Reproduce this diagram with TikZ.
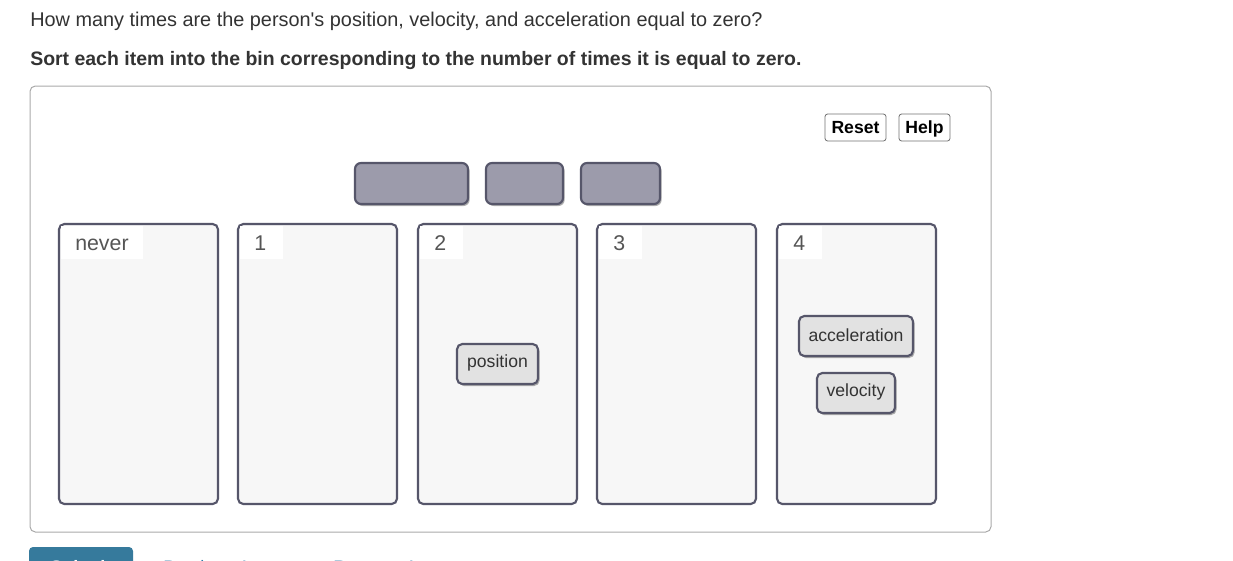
\documentclass[tikz,border=0pt]{standalone}
\usepackage{fontspec}
\setmainfont{Liberation Sans}
\newfontfamily\plainapos{Liberation Sans}
\usetikzlibrary{shadows}
\definecolor{txt}{HTML}{333333}
\definecolor{lbl}{HTML}{555555}
\definecolor{panelb}{HTML}{AAAAAA}
\definecolor{binfill}{HTML}{F7F7F7}
\definecolor{binb}{HTML}{56566A}
\definecolor{slot}{HTML}{9C9BAB}
\definecolor{chipfill}{HTML}{E2E2E2}
\definecolor{subm}{HTML}{367A9C}
\definecolor{link}{HTML}{2C7AA8}
\tikzset{
  bin/.style={draw=binb, line width=1.6pt, fill=binfill, rounded corners=4pt},
  slotbox/.style={draw=binb, line width=1.6pt, fill=slot, rounded corners=4.5pt,
    drop shadow={shadow xshift=1.2pt, shadow yshift=-1.5pt, opacity=0.45, fill=black!70}},
  chip/.style={draw=binb, line width=1.6pt, fill=chipfill, rounded corners=4pt,
    drop shadow={shadow xshift=1.2pt, shadow yshift=-1.5pt, opacity=0.45, fill=black!70}},
  chiptext/.style={text=txt, font=\fontsize{13.2pt}{15pt}\selectfont, inner sep=0pt},
  binlabel/.style={text=lbl, font=\fontsize{16pt}{18pt}\selectfont, inner sep=0pt, anchor=base west},
  btn/.style={draw=black!55, line width=0.6pt, fill=white, rounded corners=2pt},
  btntext/.style={font=\bfseries\fontsize{13.2pt}{15pt}\selectfont, text=black, inner sep=0pt, anchor=base},
}
\begin{document}
\begin{tikzpicture}[x=0.75pt,y=-0.75pt]
\useasboundingbox (0,0) rectangle (1233,561);
\clip (0,0) rectangle (1233,561);
\fill[white] (0,0) rectangle (1233,561);

% question
\node[anchor=base west, inner sep=0pt, text=txt, font=\fontsize{14.9pt}{17pt}\selectfont] (q) at (30,26)
  {How many times are the person{\plainapos'}s position, velocity, and acceleration equal to zero?};
\node[anchor=base west, inner sep=0pt, text=txt, font=\bfseries\fontsize{14.6pt}{17pt}\selectfont] (instr) at (30,65.5)
  {Sort each item into the bin corresponding to the number of times it is equal to zero.};

% panel
\draw[panelb, line width=0.75pt, rounded corners=4pt] (30,86) rectangle (991,532);

% Reset / Help
\draw[btn] (825,114) rectangle (886,141);
\node[btntext] (reset) at (855.5,133.5) {Reset};
\draw[btn] (899,114) rectangle (950,141);
\node[btntext] (help) at (924.5,133.5) {Help};

% empty slots
\path[slotbox] (355,163) rectangle (468,204);
\path[slotbox] (486,163) rectangle (563,204);
\path[slotbox] (581,163) rectangle (660,204);

% bins
\foreach \x/\w/\t/\n in {59/84/never/b0, 238/45/1/b1, 418/45/2/b2, 597/45/3/b3, 777/45/4/b4}{
  \path[bin] (\x,224) rectangle (\x+159,504);
  \fill[white] (\x+1.6,225.6) rectangle (\x+\w,259);
  \node[binlabel] (\n) at (\x+16,250.5) {\t};
}

% chips
\path[chip] (457,344) rectangle (538,384);
\node[chiptext] (pos) at (497.5,363) {position};
\path[chip] (799,316) rectangle (913,356);
\node[chiptext] (acc) at (856,335) {acceleration};
\path[chip] (817,373) rectangle (895,413);
\node[chiptext] (vel) at (856,392) {velocity};

% bottom (cut off, as in the reference)
\fill[subm, rounded corners=3pt] (29,547) rectangle (133,600);
\node[anchor=base west, inner sep=0pt, text=white, font=\bfseries\fontsize{13.5pt}{16pt}\selectfont] (submit) at (50,573) {Submit};
\node[anchor=base west, inner sep=0pt, text=link, font=\fontsize{13.5pt}{16pt}\selectfont] (prev) at (163,573) {Previous Answers};
\node[anchor=base west, inner sep=0pt, text=link, font=\fontsize{13.5pt}{16pt}\selectfont] (req) at (333,573) {Request Answer};
\end{tikzpicture}
\end{document}
